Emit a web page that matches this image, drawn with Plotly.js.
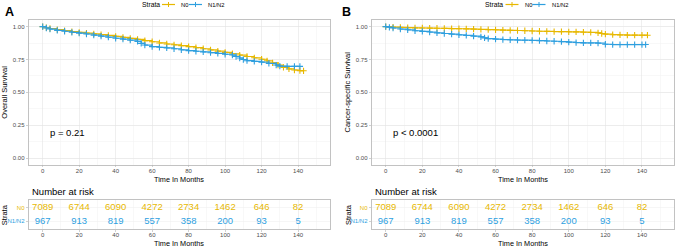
<!DOCTYPE html>
<html><head><meta charset="utf-8">
<script src="https://cdn.plot.ly/plotly-3.0.1.min.js"></script>
<style>html,body{margin:0;padding:0;background:#fff}#chart{width:675px;height:247px}</style>
</head><body><div id="chart"></div>
<script>
// ---- data ----
const strata = ['N0', 'N1/N2'];
const riskTimes = [0, 20, 40, 60, 80, 100, 120, 140];
const riskN0 = [7089, 6744, 6090, 4272, 2734, 1462, 646, 82];
const riskN12 = [967, 913, 819, 557, 358, 200, 93, 5];

// Panel A: overall survival
const osTimeN0 = [0,2,4,8,12,16,20,24,28,32,36,40,44,48,52,56,60,64,68,72,76,80,84,88,92,96,100,104,108,112,116,120,123,126,129,132,135,138,141,143];
const osSurvN0 = [1.0,0.992,0.986,0.977,0.970,0.963,0.957,0.951,0.945,0.939,0.933,0.926,0.919,0.911,0.903,0.894,0.885,0.876,0.868,0.862,0.856,0.848,0.840,0.832,0.823,0.814,0.804,0.794,0.784,0.773,0.763,0.752,0.740,0.724,0.707,0.690,0.678,0.670,0.665,0.664];
const osTimeN12 = [0,2,4,8,12,16,20,24,28,32,36,40,44,48,52,54,56,60,64,68,72,76,80,84,88,92,96,100,104,106,108,110,112,116,120,124,128,130,134,138,141];
const osSurvN12 = [1.0,0.990,0.982,0.972,0.965,0.957,0.951,0.944,0.936,0.928,0.920,0.912,0.905,0.897,0.888,0.873,0.860,0.848,0.843,0.838,0.832,0.824,0.818,0.813,0.808,0.802,0.796,0.790,0.784,0.773,0.761,0.750,0.741,0.736,0.730,0.720,0.708,0.700,0.698,0.698,0.698];

// Panel B: cancer-specific survival
const csTimeN0 = [0,4,8,12,16,20,24,28,32,36,40,44,48,52,56,60,64,68,72,76,80,84,88,92,96,100,104,108,112,116,118,120,124,128,132,136,140,143];
const csSurvN0 = [1.0,0.997,0.995,0.993,0.991,0.990,0.989,0.988,0.987,0.985,0.984,0.983,0.981,0.979,0.977,0.976,0.974,0.972,0.971,0.969,0.967,0.965,0.964,0.963,0.962,0.961,0.960,0.958,0.956,0.953,0.948,0.943,0.939,0.937,0.936,0.936,0.935,0.935];
const csTimeN12 = [0,2,4,8,12,16,20,24,28,32,36,40,44,48,52,54,56,60,64,68,72,76,80,84,88,92,96,100,104,108,112,116,120,124,128,132,136,140,142];
const csSurvN12 = [1.0,0.995,0.990,0.982,0.976,0.969,0.964,0.959,0.953,0.948,0.943,0.938,0.933,0.928,0.922,0.915,0.909,0.905,0.902,0.900,0.898,0.897,0.895,0.893,0.891,0.889,0.886,0.882,0.879,0.877,0.876,0.875,0.866,0.864,0.864,0.864,0.864,0.864,0.864];

const yTickVals = [0, 0.25, 0.5, 0.75, 1];
const yTickText = ['0.00', '0.25', '0.50', '0.75', '1.00'];
const pTexts = ['p = 0.21', 'p < 0.0001'];
const yTitles = ['Overall Survival', 'Cancer-specific Survival'];

// ---- style ----
const C_N0 = '#E7B800', C_N12 = '#2E9FDF';
const FONT = 'Liberation Sans, Arial, sans-serif';
const W = 675, H = 247;
const px = x => x / W, py = y => 1 - y / H;

function kmTrace(t, s, color, xa, ya) {
  return { x: t, y: s, xaxis: xa, yaxis: ya, type: 'scatter', mode: 'lines+markers',
    line: { shape: 'hv', color: color, width: 1.2 },
    marker: { symbol: 'cross-thin', size: 4.5, color: color, line: { color: color, width: 1.1 } },
    hoverinfo: 'skip', showlegend: false };
}
function riskTrace(vals, name, color, xa, ya) {
  return { x: riskTimes, y: riskTimes.map(() => name), xaxis: xa, yaxis: ya, type: 'scatter', mode: 'text',
    text: vals.map(String), textfont: { family: FONT, size: 9.5, color: color },
    hoverinfo: 'skip', showlegend: false };
}

const data = [
  kmTrace(osTimeN0, osSurvN0, C_N0, 'x', 'y'),
  kmTrace(osTimeN12, osSurvN12, C_N12, 'x', 'y'),
  riskTrace(riskN0, strata[0], C_N0, 'x2', 'y2'),
  riskTrace(riskN12, strata[1], C_N12, 'x2', 'y2'),
  kmTrace(csTimeN0, csSurvN0, C_N0, 'x3', 'y3'),
  kmTrace(csTimeN12, csSurvN12, C_N12, 'x3', 'y3'),
  riskTrace(riskN0, strata[0], C_N0, 'x4', 'y4'),
  riskTrace(riskN12, strata[1], C_N12, 'x4', 'y4')
];

const tickFont = { family: FONT, size: 6, color: '#4d4d4d' };
function xAxis(dom, anchor) {
  return { domain: dom, anchor: anchor, range: [-7.5, 157.5], tickmode: 'linear', tick0: 0, dtick: 20,
    showgrid: true, gridcolor: '#e4e4e4', gridwidth: 0.6,
    minor: { dtick: 10, tick0: 0, showgrid: true, gridcolor: '#f1f1f1', gridwidth: 0.5 },
    showline: true, mirror: true, linecolor: '#b3b3b3', linewidth: 0.8,
    ticks: 'outside', ticklen: 2, tickwidth: 0.6, tickcolor: '#b3b3b3', ticklabelstandoff: -2,
    tickfont: tickFont, zeroline: false, fixedrange: true };
}
function yMain(dom, anchor) {
  return { domain: dom, anchor: anchor, range: [-0.05, 1.05], tickmode: 'array', tickvals: yTickVals, ticktext: yTickText,
    showgrid: true, gridcolor: '#e4e4e4', gridwidth: 0.6,
    minor: { dtick: 0.125, tick0: 0, showgrid: true, gridcolor: '#f1f1f1', gridwidth: 0.5 },
    showline: true, mirror: true, linecolor: '#b3b3b3', linewidth: 0.8,
    ticks: 'outside', ticklen: 2.5, tickwidth: 0.6, tickcolor: '#b3b3b3',
    tickfont: tickFont, zeroline: false, fixedrange: true };
}
function yRisk(dom, anchor) {
  return { domain: dom, anchor: anchor, type: 'category', categoryorder: 'array', categoryarray: [strata[1], strata[0]],
    range: [-0.6, 1.6], tickmode: 'array', tickvals: [strata[1], strata[0]],
    ticktext: ['<span style="fill:' + C_N12 + '">' + strata[1] + '</span>', '<span style="fill:' + C_N0 + '">' + strata[0] + '</span>'],
    showgrid: true, gridcolor: '#eeeeee', gridwidth: 0.5,
    showline: true, mirror: true, linecolor: '#b3b3b3', linewidth: 0.8,
    ticks: 'outside', ticklen: 2.5, tickwidth: 0.6, tickcolor: '#b3b3b3',
    tickfont: { family: FONT, size: 6, color: '#4d4d4d' }, zeroline: false, fixedrange: true };
}

const xA = [px(29), px(330)], xB = [px(372), px(674)];
const yM = [py(164.6), py(20.1)], yR = [py(229.3), py(200)];

const ann = [];
function txt(x, y, text, size, opts) {
  ann.push(Object.assign({ xref: 'paper', yref: 'paper', x: px(x), y: py(y), text: text, showarrow: false,
    xanchor: 'center', yanchor: 'middle', font: { family: FONT, size: size, color: '#000' } }, opts || {}));
}
const shapes = [];
function seg(x0, y0, x1, y1, color, w) {
  shapes.push({ type: 'line', xref: 'paper', yref: 'paper', x0: px(x0), y0: py(y0), x1: px(x1), y1: py(y1),
    line: { color: color, width: w } });
}

[0, 343.5].forEach((off, i) => {
  const L = i === 0 ? 29 : 372, R = i === 0 ? 330 : 674;
  const cx = (L + R) / 2;
  // panel letter
  txt(i === 0 ? 9 : 346, 12, '<b>' + (i === 0 ? 'A' : 'B') + '</b>', 12.5);
  // legend
  txt(139.5 + off, 4.5, 'Strata', 6.8, { xanchor: 'left' });
  seg(162 + off, 4.5, 175 + off, 4.5, C_N0, 1.2);
  seg(168.5 + off, 2, 168.5 + off, 7, C_N0, 1);
  txt(179 + off, 4.5, strata[0], 5.8, { xanchor: 'left' });
  seg(189 + off, 4.5, 202 + off, 4.5, C_N12, 1.2);
  seg(195.5 + off, 2, 195.5 + off, 7, C_N12, 1);
  txt(206 + off, 4.5, strata[1], 5.8, { xanchor: 'left' });
  // y titles
  txt(i === 0 ? 4.7 : 347.5, 92, yTitles[i], 7.5, { textangle: -90 });
  txt(i === 0 ? 4.2 : 348, 215, 'Strata', 7.5, { textangle: -90 });
  // x titles
  txt(cx, 179, 'Time In Months', 7.3);
  txt(cx, 243, 'Time In Months', 7.3);
  // number at risk
  txt(L + 1, 191.7, 'Number at risk', 9.5, { xanchor: 'left' });
  // p value
  ann.push({ xref: i === 0 ? 'x' : 'x3', yref: i === 0 ? 'y' : 'y3', x: 3, y: 0.195, text: pTexts[i], showarrow: false,
    xanchor: 'left', yanchor: 'middle', font: { family: FONT, size: 9.5, color: '#000' } });
});

const layout = {
  width: W, height: H, margin: { l: 0, r: 0, t: 0, b: 0 },
  paper_bgcolor: '#fff', plot_bgcolor: '#fff', showlegend: false,
  font: { family: FONT },
  xaxis: xAxis(xA, 'y'), yaxis: yMain(yM, 'x'),
  xaxis2: xAxis(xA, 'y2'), yaxis2: yRisk(yR, 'x2'),
  xaxis3: xAxis(xB, 'y3'), yaxis3: yMain(yM, 'x3'),
  xaxis4: xAxis(xB, 'y4'), yaxis4: yRisk(yR, 'x4'),
  annotations: ann, shapes: shapes
};

Plotly.newPlot('chart', data, layout, { displayModeBar: false, staticPlot: true });
</script></body></html>
